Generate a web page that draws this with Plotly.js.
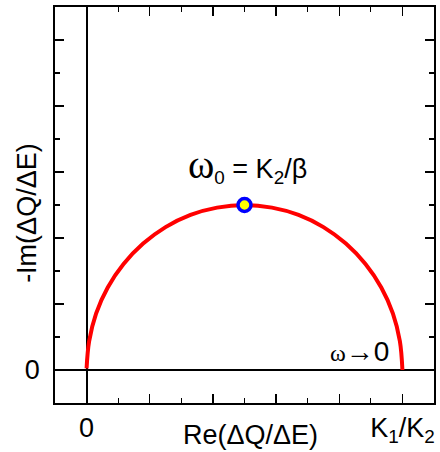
<!DOCTYPE html>
<html>
<head>
<meta charset="utf-8">
<script src="https://cdn.plot.ly/plotly-3.0.1.min.js"></script>
<style>html,body{margin:0;padding:0;background:#fff}</style>
</head>
<body>
<div id="chart" style="width:440px;height:452px"></div>
<script>
// Cole-Cole semicircle
var reValues = [0.000, 0.008, 0.030, 0.067, 0.117, 0.179, 0.250, 0.329, 0.413, 0.500, 0.587, 0.671, 0.750, 0.821, 0.883, 0.933, 0.970, 0.992, 1.000];
var imValues = [0.005, 0.087, 0.171, 0.250, 0.321, 0.383, 0.433, 0.470, 0.492, 0.500, 0.492, 0.470, 0.433, 0.383, 0.321, 0.250, 0.171, 0.087, 0.000];
var peakRe = [0.5];
var peakIm = [0.5];
var xTickVals = [0, 0.2, 0.4, 0.6, 0.8, 1.0];
var xTickText = ['0', '', '', '', '', 'K<sub>1</sub>/K<sub>2</sub>'];
var yTickVals = [0, 0.2, 0.4, 0.6, 0.8, 1.0];
var yTickText = ['0', '', '', '', '', ''];

var font = 'Arial, "Liberation Sans", sans-serif';

var traces = [
  {x: reValues, y: imValues, mode: 'lines', type: 'scatter',
   line: {color: '#ff0000', width: 4, shape: 'spline'}, hoverinfo: 'skip'},
  {x: peakRe, y: peakIm, mode: 'markers', type: 'scatter',
   marker: {size: 13, color: '#ffff00', line: {color: '#0000ff', width: 3.5}}}
];

var axisCommon = {
  showline: true, linecolor: '#000', linewidth: 1.8, mirror: 'ticks',
  ticks: 'inside', ticklen: 9, tickwidth: 1.3, tickcolor: '#000',
  showgrid: false, zeroline: true, zerolinecolor: '#000', zerolinewidth: 2,
  tickmode: 'array', tickfont: {family: font, size: 27, color: '#000'},
  minor: {ticks: 'inside', ticklen: 5, tickwidth: 1.3, tickcolor: '#000', dtick: 0.1, tick0: 0, showgrid: false}
};

var layout = {
  width: 440, height: 452,
  margin: {l: 55, r: 6, t: 7, b: 49},
  paper_bgcolor: '#fff', plot_bgcolor: '#fff',
  showlegend: false,
  font: {family: font, color: '#000'},
  xaxis: Object.assign({}, axisCommon, {range: [-0.1, 1.1], tickvals: xTickVals, ticktext: xTickText, ticklabelstandoff: 0}),
  yaxis: Object.assign({}, axisCommon, {range: [-0.1, 1.1], tickvals: yTickVals, ticktext: yTickText, ticklabelstandoff: 8}),
  annotations: [
    {xref: 'x', yref: 'paper', x: 0.52, y: -0.08, text: 'Re(ΔQ/ΔE)', showarrow: false,
     font: {family: font, size: 27, color: '#000'}, xanchor: 'center', yanchor: 'middle'},
    {xref: 'paper', yref: 'paper', x: -0.074, y: 0.48, text: '-Im(ΔQ/ΔE)', showarrow: false, textangle: -90,
     font: {family: font, size: 27, color: '#000'}, xanchor: 'center', yanchor: 'middle'},
    {xref: 'x', yref: 'y', x: 0.51, y: 0.62, showarrow: false, xanchor: 'center', yanchor: 'middle',
     text: '<span style="font-family:' + "'Liberation Serif'" + ';font-size:40px">ω</span><sub>0</sub> = K<sub>2</sub>/β',
     font: {family: font, size: 27, color: '#000'}},
    {xref: 'x', yref: 'y', x: 0.863, y: 0.055, showarrow: false, xanchor: 'center', yanchor: 'middle',
     text: '<span style="font-family:' + "'Liberation Serif'" + ';font-size:24px">ω</span>→0',
     font: {family: font, size: 28, color: '#000'}}
  ]
};

Plotly.newPlot('chart', traces, layout, {displayModeBar: false, staticPlot: true});
</script>
</body>
</html>
